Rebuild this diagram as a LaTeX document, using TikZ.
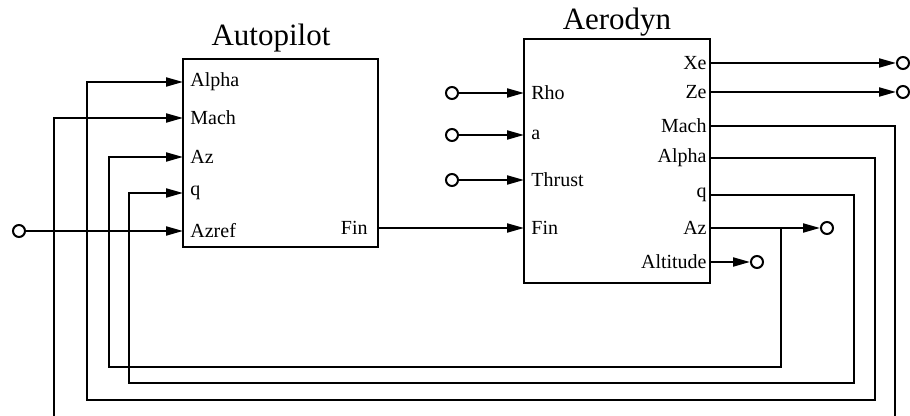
\documentclass[tikz,border=0pt]{standalone}
\usepackage{fontspec}
\setmainfont{Liberation Serif}
\usetikzlibrary{arrows.meta}
\tikzset{
  every picture/.style={line join=miter, >={Triangle[length=8.5pt,width=4.5pt]}},
  block/.style={draw, line width=0.65pt, inner sep=0pt},
  blocktitle/.style={font=\fontsize{15.5}{18}\selectfont, anchor=base, inner sep=0pt},
  lab/.style={font=\fontsize{10}{12}\selectfont, inner sep=3.5pt},
  sig/.style={line width=1pt},
  term/.style={circle, draw, line width=1pt, inner sep=0pt, minimum size=6pt},
}

\begin{document}
\begin{tikzpicture}[x=0.5pt, y=-0.5pt]
\useasboundingbox (0,0) rectangle (910,416);
\clip (0,0) rectangle (910,416);

\node[block, minimum width=97.5pt, minimum height=94pt] (ap) at (280.5,153) {};
\node[blocktitle] (ap-t) at (271,46) {Autopilot};
\node[block, minimum width=93pt, minimum height=122pt] (ad) at (617,161) {};
\node[blocktitle] (ad-t) at (617,30) {Aerodyn};

\foreach \n/\y/\t in {alpha/82/Alpha, mach/118/Mach, az/157/Az, q/193/q, azref/231/Azref} {
  \coordinate (ap-\n) at (183,\y);
  \node[lab, anchor=west] (ap-\n-l) at (ap-\n) {\t};
}
\coordinate (ap-fin) at (378,228);
\node[lab, anchor=east, inner sep=5pt] (ap-fin-l) at (ap-fin) {Fin};

\foreach \n/\y/\t in {rho/93/Rho, a/135/a, thrust/180/Thrust, fin/228/Fin} {
  \coordinate (ad-\n) at (524,\y);
  \node[lab, anchor=west] (ad-\n-l) at (ad-\n) {\t};
}
\foreach \n/\y/\t in {xe/63/Xe, ze/92/Ze, mach/126/Mach, alpha/158/Alpha, q/195/q, az/228/Az, alt/262/Altitude} {
  \coordinate (ad-\n) at (710,\y);
  \node[lab, anchor=east, inner sep=1.5pt] (ad-\n-l) at (ad-\n) {\t};
}

\node[term] (azref-i) at (19,231) {};
\node[term] (rho-i) at (452,93) {};
\node[term] (a-i) at (452,135) {};
\node[term] (thrust-i) at (452,180) {};
\node[term] (xe-o) at (903,63) {};
\node[term] (ze-o) at (903,92) {};
\node[term] (az-o) at (827,228) {};
\node[term] (alt-o) at (757,262) {};
\coordinate (az-tap) at (781,228);

\draw[sig,->] (azref-i) -- (ap-azref);
\draw[sig,->] (rho-i) -- (ad-rho);
\draw[sig,->] (a-i) -- (ad-a);
\draw[sig,->] (thrust-i) -- (ad-thrust);
\draw[sig,->] (ap-fin) -- (ad-fin);
\draw[sig,->] (ad-xe) -- (xe-o);
\draw[sig,->] (ad-ze) -- (ze-o);
\draw[sig,->] (ad-az) -- (az-o);
\draw[sig,->] (ad-alt) -- (alt-o);

\draw[sig,->] (az-tap) -- (781,367) -- (109,367) |- (ap-az);
\draw[sig,->] (ad-q) -| (854,383) -- (129,383) |- (ap-q);
\draw[sig,->] (ad-alpha) -| (875,400) -- (87,400) |- (ap-alpha);
\draw[sig,->] (ad-mach) -| (895,420) -- (54,420) |- (ap-mach);
\end{tikzpicture}
\end{document}
